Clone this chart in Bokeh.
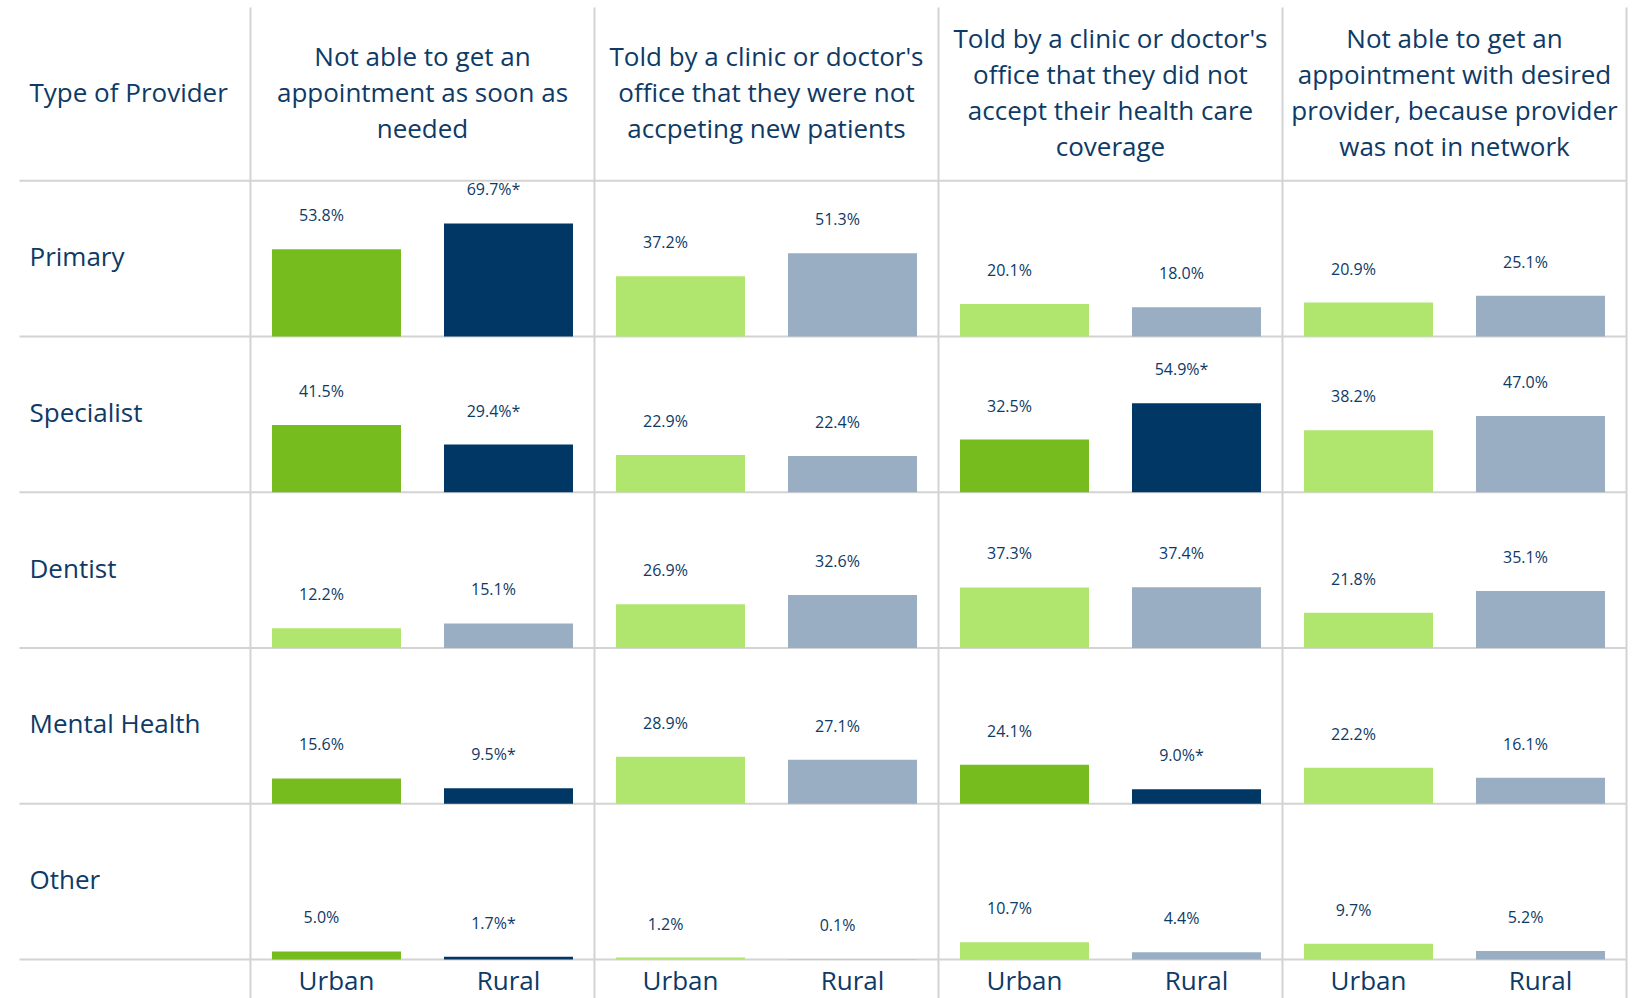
from bokeh.plotting import figure
from bokeh.models import ColumnDataSource, Range1d
from bokeh.core.properties import value
from bokeh.embed import file_html
from bokeh.resources import INLINE

# ---------------- data ----------------
providers = ["Primary", "Specialist", "Dentist", "Mental Health", "Other"]
measures = [
    "Not able to get an\nappointment as soon as\nneeded",
    "Told by a clinic or doctor's\noffice that they were not\naccpeting new patients",
    "Told by a clinic or doctor's\noffice that they did not\naccept their health care\ncoverage",
    "Not able to get an\nappointment with desired\nprovider, because provider\nwas not in network",
]
groups = ["Urban", "Rural"]
row_header = "Type of Provider"

urban = [
    [53.8, 41.5, 12.2, 15.6, 5.0],
    [37.2, 22.9, 26.9, 28.9, 1.2],
    [20.1, 32.5, 37.3, 24.1, 10.7],
    [20.9, 38.2, 21.8, 22.2, 9.7],
]
rural = [
    [69.7, 29.4, 15.1, 9.5, 1.7],
    [51.3, 22.4, 32.6, 27.1, 0.1],
    [18.0, 54.9, 37.4, 9.0, 4.4],
    [25.1, 47.0, 35.1, 16.1, 5.2],
]
significant = [
    [True, True, False, True, True],
    [False, False, False, False, False],
    [False, True, False, True, False],
    [False, False, False, False, False],
]

# ---------------- styles ----------------
DARK_GREEN = "#77BC1F"
NAVY = "#003764"
LIGHT_GREEN = "#B0E66E"
GREY_BLUE = "#9AAEC3"
TEXT = "#0E3A66"
GRID = "#D3D3D3"
FONT = "Open Sans"

ROW = 96.0          # value units per row
N = len(providers)

def row_base(i):
    return (N - 1 - i) * ROW

# ---------------- build sources ----------------
xs, bottoms, tops, colors, labels, lab_y = [], [], [], [], [], []
for m in range(len(measures)):
    for r in range(N):
        for g, vals in enumerate((urban, rural)):
            v = vals[m][r]
            base = row_base(r)
            xs.append(m + (g + 0.5) / 2)
            bottoms.append(base)
            tops.append(base + v)
            sig = significant[m][r]
            if g == 0:
                colors.append(DARK_GREEN if sig else LIGHT_GREEN)
            else:
                colors.append(NAVY if sig else GREY_BLUE)
            star = "*" if (g == 1 and sig) else ""
            labels.append(f"{v:.1f}%{star}")
            lab_y.append(base + v)

bars = ColumnDataSource(dict(x=xs, bottom=bottoms, top=tops, color=colors,
                             label=labels, ly=lab_y))

W, H = 1640, 998
p = figure(width=W, height=H, output_backend="svg", toolbar_location=None,
           x_range=Range1d(-0.7267, 4.0407), y_range=Range1d(-24.04, 591.1),
           min_border=0)
p.axis.visible = False
p.xgrid.visible = False
p.ygrid.visible = False
p.outline_line_color = None
p.background_fill_color = "white"
p.border_fill_color = "white"

# grid lines of the table
for i in range(N + 1):
    p.line([-0.6715, 4.0], [i * ROW, i * ROW], line_color=GRID, line_width=2)
for m in range(len(measures) + 1):
    p.line([m, m], [-30, 586.8], line_color=GRID, line_width=2)

# bars
p.vbar(x="x", bottom="bottom", top="top", width=0.375, fill_color="color",
       line_color=None, source=bars)

# value labels
p.text(x="x", y="ly", text="label", source=bars, text_align="center",
       text_baseline="middle", x_offset=-15, y_offset=-34,
       text_font=value(FONT), text_font_size="16px", text_color=TEXT)

# row labels
p.text(x=[-0.6424] * N, y=[row_base(i) + ROW / 2 + 1.5 for i in range(N)], text=providers,
       text_align="left", text_baseline="middle", text_font=value(FONT),
       text_font_size="26px", text_color=TEXT)

# header
header_y = N * ROW + 54.5
p.text(x=[-0.6424], y=[header_y], text=[row_header], text_align="left",
       text_baseline="middle", text_font=value(FONT), text_font_size="26px",
       text_color=TEXT)
p.text(x=[m + 0.5 for m in range(len(measures))], y=[header_y] * len(measures),
       text=measures, text_align="center", text_baseline="middle",
       text_font=value(FONT), text_font_size="26px", text_color=TEXT,
       text_line_height=1.0)

# group labels
gx, gt = [], []
for m in range(len(measures)):
    for g, name in enumerate(groups):
        gx.append(m + (g + 0.5) / 2)
        gt.append(name)
p.text(x=gx, y=[-12.6] * len(gx), text=gt, text_align="center",
       text_baseline="middle", text_font=value(FONT), text_font_size="26px",
       text_color=TEXT)

open("out.html", "w").write(file_html(p, INLINE))
